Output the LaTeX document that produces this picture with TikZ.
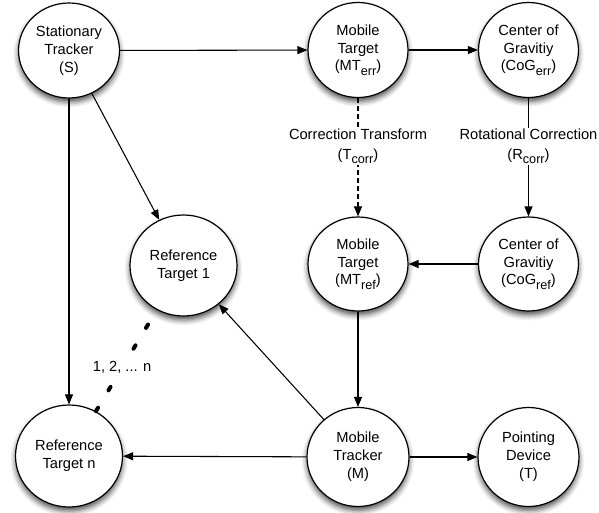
\documentclass[tikz,border=0pt]{standalone}
\usepackage{fontspec}
\setmainfont{Liberation Sans}
\usetikzlibrary{arrows.meta,shapes.geometric,shadows.blur}
\newcommand\sbs[1]{\raisebox{-3.2pt}{\fontsize{9.5}{9.5}\selectfont #1}}
\begin{document}
\begin{tikzpicture}[x=0.75pt,y=-0.75pt,
  state/.style={ellipse, draw, line width=0.9pt, fill=white, inner sep=0pt, align=center,
    font=\fontsize{11}{13.4}\selectfont,
    blur shadow={shadow xshift=0pt, shadow yshift=-3pt, shadow blur radius=4pt, shadow opacity=70}},
  conn/.style={line width=0.8pt, -{Triangle[length=7.5pt,width=6pt]}},
  lbl/.style={fill=white, align=center, font=\fontsize{11}{15}\selectfont, inner sep=1pt},
]
\useasboundingbox (0,0) rectangle (599,512);
\node[state, minimum width=101*0.75pt, minimum height=95*0.75pt] (S) at (69,50.5) {Stationary\\Tracker\\(S)};
\node[state, minimum width=100*0.75pt, minimum height=95*0.75pt] (MTe) at (358,50) {Mobile\\Target\\(MT\sbs{err})};
\node[state, minimum width=100*0.75pt, minimum height=95*0.75pt] (CGe) at (528.5,50) {Center of\\Gravitiy\\(CoG\sbs{err})};
\node[state, minimum width=107*0.75pt, minimum height=101*0.75pt] (RT1) at (183.5,265.5) {Reference\\Target 1};
\node[state, minimum width=100*0.75pt, minimum height=94*0.75pt] (MTr) at (358,264) {Mobile\\Target\\(MT\sbs{ref})};
\node[state, minimum width=100*0.75pt, minimum height=94*0.75pt] (CGr) at (528.5,264) {Center of\\Gravitiy\\(CoG\sbs{ref})};
\node[state, minimum width=107*0.75pt, minimum height=102*0.75pt] (RTn) at (69,456) {Reference\\Target n};
\node[state, minimum width=102*0.75pt, minimum height=99*0.75pt] (M) at (358,457) {Mobile\\Tracker\\(M)};
\node[state, minimum width=101*0.75pt, minimum height=99*0.75pt] (T) at (528.5,457) {Pointing\\Device\\(T)};

\draw[conn] (S) -- (MTe);
\draw[conn] (MTe) -- (CGe);
\draw[conn, dash pattern=on 3.5pt off 2.5pt] (MTe) -- node[lbl, pos=0.41] {Correction Transform\\(T\sbs{corr})} (MTr);
\draw[conn] (CGe) -- node[lbl, pos=0.41] {Rotational Correction\\(R\sbs{corr})} (CGr);
\draw[conn] (CGr) -- (MTr);
\draw[conn] (MTr) -- (M);
\draw[conn] (M) -- (RT1);
\draw[conn] (M) -- (RTn);
\draw[conn] (M) -- (T);
\draw[conn] (S) -- (RTn);
\draw[conn] (S) -- (RT1);
\draw[line width=3pt, line cap=round, dash pattern=on 3pt off 15.2pt, dash phase=5.45pt] (RT1) -- node[lbl, pos=0.57, inner sep=2pt] {1, 2, ... n} (RTn);
\end{tikzpicture}
\end{document}
